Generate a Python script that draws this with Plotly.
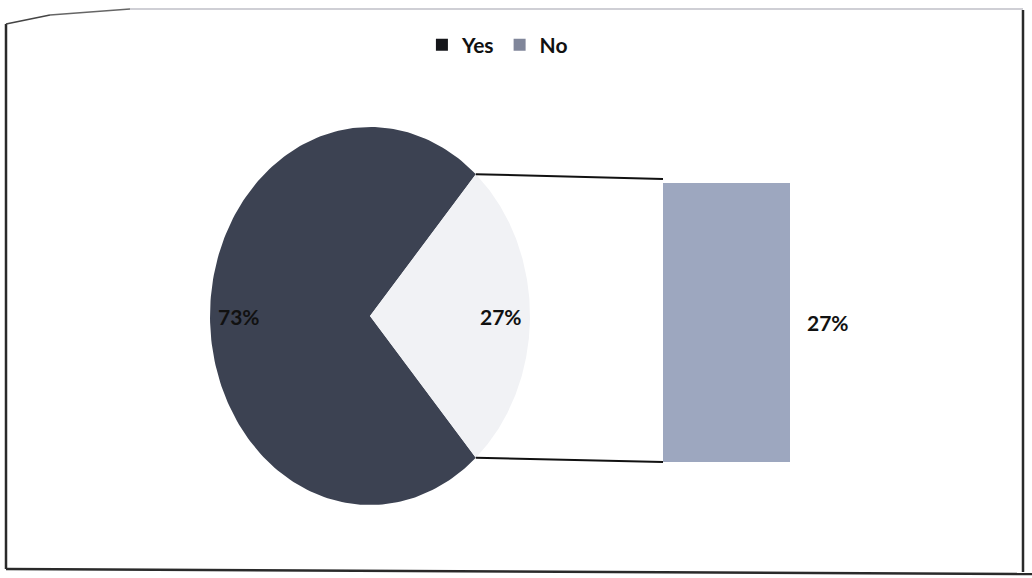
import numpy as np
import plotly.graph_objects as go

# ---- data ----
categories = ["Yes", "No"]
values = [73, 27]              # main pie (percent)
bar_categories = ["No"]        # breakdown of the split slice
bar_values = [27]

# ---- layout constants (pixels) ----
W, H = 1032, 578
CX, CY, RX, RY = 370, 316, 160, 189
BAR_X0, BAR_X1, BAR_TOP, BAR_BOT = 663, 790, 183, 462
pie_colors = {"Yes": "#3c4252", "No": "#f1f2f5"}
legend_colors = {"Yes": "#15161a", "No": "#80869a"}
bar_color = "#9da7bf"
FONT = "Lato"

total = sum(values)
split_half = 360.0 * values[1] / total / 2.0
angles = {"No": (-split_half, split_half), "Yes": (split_half, 360 - split_half)}

fig = go.Figure()

def wedge(a0, a1):
    t = np.radians(np.linspace(a0, a1, 200))
    xs = np.concatenate([[CX], CX + RX * np.cos(t), [CX]])
    ys = np.concatenate([[CY], CY - RY * np.sin(t), [CY]])
    return xs, ys

for cat, val in zip(categories, values):
    a0, a1 = angles[cat]
    xs, ys = wedge(a0, a1)
    fig.add_trace(go.Scatter(x=xs, y=ys, fill="toself", mode="lines",
                             line=dict(width=0, color=pie_colors[cat]),
                             fillcolor=pie_colors[cat], showlegend=False,
                             hoverinfo="skip", xaxis="x", yaxis="y"))
    mid = np.radians((a0 + a1) / 2.0)
    fig.add_annotation(x=CX + 0.82 * RX * np.cos(mid), y=CY - 0.82 * RY * np.sin(mid),
                       xref="x", yref="y", text=f"{val}%", showarrow=False,
                       font=dict(family=FONT, size=21, color="#111111", weight="bold"))

# bar of the split slice
fig.add_trace(go.Bar(x=bar_categories, y=bar_values, width=1, marker=dict(color=bar_color, line=dict(width=0)),
                     showlegend=False, xaxis="x2", yaxis="y2", hoverinfo="skip"))
fig.add_annotation(x=0.5, y=bar_values[0] / 2.0, xref="x2", yref="y2", text=f"{bar_values[0]}%",
                   showarrow=False, xanchor="left", xshift=15,
                   font=dict(family=FONT, size=21, color="#111111", weight="bold"))

# connector lines from split slice edges to bar corners
for ang, by in [(split_half, BAR_TOP - 4), (-split_half, BAR_BOT)]:
    r = np.radians(ang)
    fig.add_shape(type="line", xref="x", yref="y",
                  x0=CX + RX * np.cos(r), y0=CY - RY * np.sin(r), x1=BAR_X0, y1=by,
                  line=dict(color="#111111", width=2))

# legend entries
for cat in categories:
    fig.add_trace(go.Scatter(x=[None], y=[None], mode="markers", name=cat,
                             marker=dict(symbol="square", size=12, color=legend_colors[cat])))

# chart frame (photographed, slightly skewed)
frame = [((6, 24), (6, 569), "#2a2a2a", 2.5),
         ((6, 569), (1032, 574), "#2a2a2a", 2.5),
         ((1023, 10), (1023, 572), "#2a2a2a", 2.5),
         ((6, 24), (50, 15), "#444444", 1.6),
         ((50, 15), (130, 9), "#666666", 1.4),
         ((130, 9), (1023, 9), "#a0a0ab", 1.2)]
for (x0, y0), (x1, y1), col, w in frame:
    fig.add_shape(type="line", xref="x", yref="y", x0=x0, y0=y0, x1=x1, y1=y1,
                  line=dict(color=col, width=w))

fig.update_layout(
    width=W, height=H, margin=dict(l=0, r=0, t=0, b=0),
    paper_bgcolor="white", plot_bgcolor="white",
    xaxis=dict(range=[0, W], visible=False, domain=[0, 1]),
    yaxis=dict(range=[H, 0], visible=False, domain=[0, 1]),
    xaxis2=dict(range=[-0.5, 0.5], visible=False, domain=[BAR_X0 / W, BAR_X1 / W], anchor="y2"),
    yaxis2=dict(range=[0, bar_values[0]], visible=False, domain=[1 - BAR_BOT / H, 1 - BAR_TOP / H], anchor="x2"),
    showlegend=True,
    legend=dict(orientation="h", x=0.482, xanchor="center", y=1 - 45 / H, yanchor="middle",
                font=dict(family=FONT, size=21, color="#111111", weight="bold"),
                bgcolor="rgba(0,0,0,0)", itemclick=False, itemdoubleclick=False),
)

fig.write_html("out.html", config={"displayModeBar": False},
               post_script="document.body.style.margin='0';document.body.style.overflow='hidden';")
